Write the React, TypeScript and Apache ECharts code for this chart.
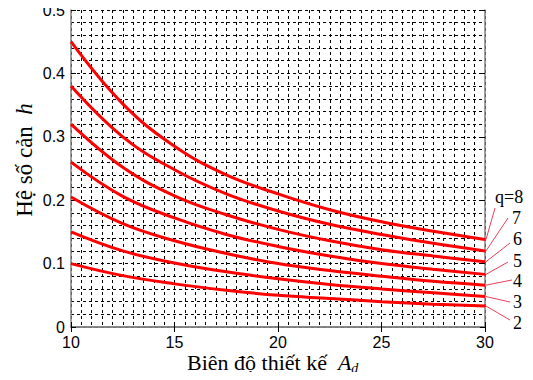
import React, { useEffect, useRef } from "react";
import * as echarts from "echarts";

const amplitudes = [10, 12.5, 15, 17.5, 20, 22.5, 25, 27.5, 30];
const qValues = [8, 7, 6, 5, 4, 3, 2];
const h_q8 = [0.45, 0.352, 0.285, 0.24, 0.21, 0.185, 0.166, 0.151, 0.138];
const h_q7 = [0.38, 0.3, 0.248, 0.21, 0.183, 0.162, 0.146, 0.132, 0.12];
const h_q6 = [0.32, 0.252, 0.207, 0.177, 0.154, 0.136, 0.122, 0.112, 0.103];
const h_q5 = [0.26, 0.206, 0.172, 0.146, 0.127, 0.112, 0.1, 0.091, 0.083];
const h_q4 = [0.205, 0.163, 0.136, 0.116, 0.1, 0.089, 0.08, 0.072, 0.066];
const h_q3 = [0.15, 0.12, 0.101, 0.087, 0.076, 0.067, 0.06, 0.054, 0.048];
const h_q2 = [0.1, 0.081, 0.068, 0.058, 0.05, 0.045, 0.04, 0.036, 0.033];
const seriesValues = [h_q8, h_q7, h_q6, h_q5, h_q4, h_q3, h_q2];
const curveLabels = ["q=8", "7", "6", "5", "4", "3", "2"];

// label layout (pixel positions of right-side annotations)
const labelLayout = [
  { tx: 495, ty: 197, lx: 495, ly: 208 },
  { tx: 512, ty: 218, lx: 508, ly: 218 },
  { tx: 513, ty: 239, lx: 510, ly: 243 },
  { tx: 513, ty: 261, lx: 508, ly: 262 },
  { tx: 513, ty: 281, lx: 512, ly: 280 },
  { tx: 513, ty: 302, lx: 510, ly: 302 },
  { tx: 513, ty: 323, lx: 510, ly: 320 },
];

const dashed = { type: [3, 3] as any, color: "#000", width: 1 };

export default function App() {
  const ref = useRef<HTMLDivElement>(null);
  useEffect(() => {
    if (!ref.current) return;
    const chart = echarts.init(ref.current, undefined, { renderer: "svg" });
    const axisLineStyle = { lineStyle: { color: "#808080", width: 1.5 } };
    chart.setOption({
      animation: false,
      backgroundColor: "#fff",
      grid: { left: 71, right: 48, top: 10, bottom: 53 },
      xAxis: [
        {
          type: "value",
          min: 10,
          max: 30,
          interval: 5,
          axisLine: { show: true, ...axisLineStyle },
          axisTick: { inside: true, length: 5, lineStyle: { color: "#000" } },
          axisLabel: {
            margin: 7,
            fontFamily: "Liberation Sans",
            fontSize: 16,
            color: "#000",
          },
          splitLine: { show: true, lineStyle: dashed },
          minorTick: { show: false, splitNumber: 10 },
          minorSplitLine: { show: true, lineStyle: dashed },
        },
        {
          type: "value",
          position: "top",
          min: 10,
          max: 30,
          interval: 5,
          axisLine: { show: true, ...axisLineStyle },
          axisTick: { inside: true, length: 5, lineStyle: { color: "#000" } },
          axisLabel: { show: false },
          splitLine: { show: false },
        },
      ],
      yAxis: [
        {
          type: "value",
          min: 0,
          max: 0.5,
          interval: 0.1,
          axisLine: { show: true, ...axisLineStyle },
          axisTick: { inside: true, length: 5, lineStyle: { color: "#000" } },
          axisLabel: {
            margin: 6,
            fontFamily: "Liberation Sans",
            fontSize: 16,
            color: "#000",
            formatter: (v: number) => (v === 0 ? "0" : String(Math.round(v * 10) / 10)),
          },
          splitLine: { show: true, lineStyle: dashed },
          minorTick: { show: false, splitNumber: 5 },
          minorSplitLine: { show: true, lineStyle: dashed },
        },
        {
          type: "value",
          position: "right",
          min: 0,
          max: 0.5,
          interval: 0.1,
          axisLine: { show: true, ...axisLineStyle },
          axisTick: { inside: true, length: 5, lineStyle: { color: "#000" } },
          axisLabel: { show: false },
          splitLine: { show: false },
        },
      ],
      series: seriesValues.map((vals, i) => ({
        type: "line",
        name: "q=" + qValues[i],
        data: amplitudes.map((a, j) => [a, vals[j]]),
        smooth: 0.4,
        showSymbol: false,
        lineStyle: { color: "#ff0000", width: 3 },
        z: 5,
      })),
    });

    const graphics: any[] = [];
    seriesValues.forEach((vals, i) => {
      const end = chart.convertToPixel({ gridIndex: 0 }, [
        amplitudes[amplitudes.length - 1],
        vals[vals.length - 1],
      ]) as number[];
      const L = labelLayout[i];
      graphics.push({
        type: "line",
        shape: { x1: end[0] + 1, y1: end[1], x2: L.lx, y2: L.ly },
        style: { stroke: "#e8405a", lineWidth: 1 },
        z: 10,
      });
      graphics.push({
        type: "text",
        x: L.tx,
        y: L.ty,
        style: {
          text: curveLabels[i],
          fontFamily: "Liberation Serif",
          fontSize: 18,
          fill: "#000",
          verticalAlign: "middle",
          align: "left",
        },
        z: 10,
      });
    });
    graphics.push({
      type: "text",
      x: 187,
      y: 362,
      style: {
        text: "{a|Biên độ thiết kế  }{i|A}{s|d}",
        verticalAlign: "middle",
        rich: {
          a: { fontFamily: "Liberation Serif", fontSize: 22, fill: "#000" },
          i: { fontFamily: "Liberation Serif", fontSize: 22, fontStyle: "italic", fill: "#000" },
          s: {
            fontFamily: "Liberation Serif",
            fontSize: 14,
            fontStyle: "italic",
            fill: "#000",
            padding: [12, 0, 0, 0],
          },
        },
      },
    });
    graphics.push({
      type: "text",
      x: 24,
      y: 160,
      rotation: Math.PI / 2,
      style: {
        text: "{a|Hệ số cản  }{i|h}",
        align: "center",
        verticalAlign: "middle",
        rich: {
          a: { fontFamily: "Liberation Serif", fontSize: 23, fill: "#000" },
          i: { fontFamily: "Liberation Serif", fontSize: 23, fontStyle: "italic", fill: "#000" },
        },
      },
    });
    chart.setOption({ graphic: graphics });
    return () => chart.dispose();
  }, []);
  return <div ref={ref} style={{ width: 533, height: 380, margin: -8 }} />;
}
